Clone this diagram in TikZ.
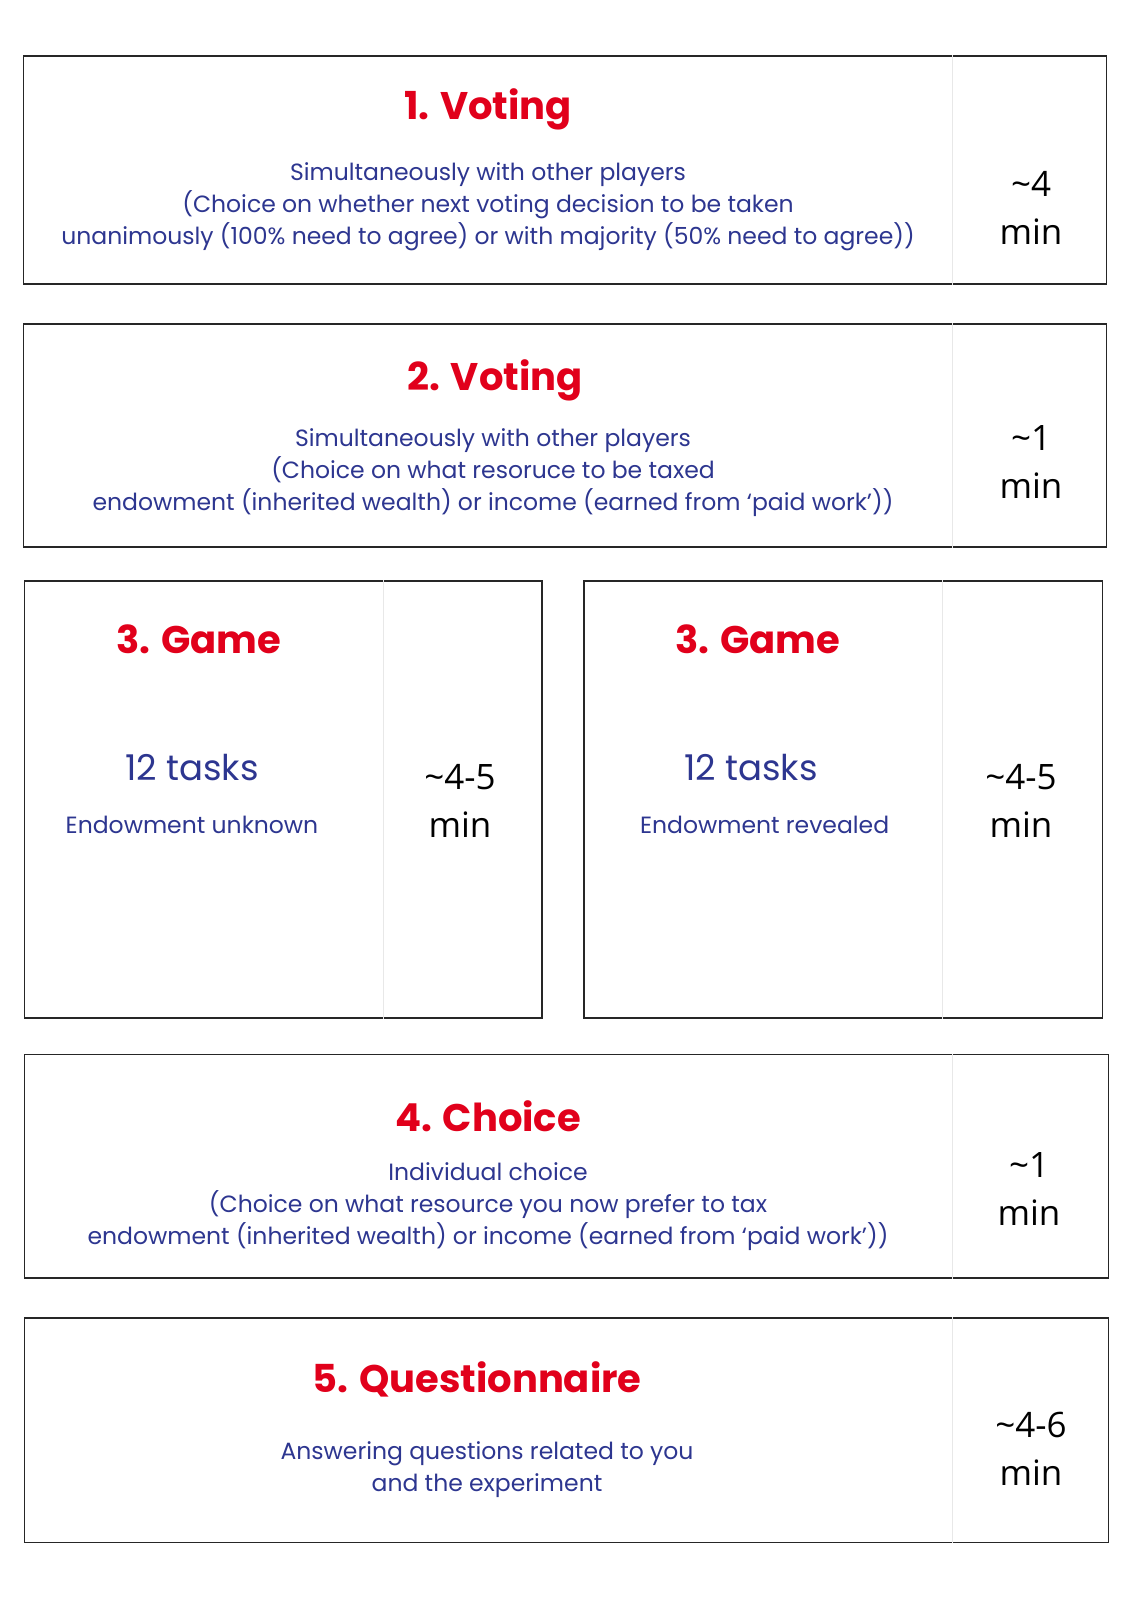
\documentclass[tikz,border=0pt]{standalone}
\usepackage{fontspec}
\setmainfont{Poppins}
\newfontfamily\durfont{Open Sans}
\usetikzlibrary{positioning,calc}
\definecolor{stagered}{HTML}{E1001B}
\definecolor{stageblue}{HTML}{2D3690}
\tikzset{
  stagebox/.style={draw=black!85,line width=1.6pt,inner sep=0pt},
  colsep/.style={draw=black!9,line width=0.8pt},
  ttl/.style={text=stagered,font=\fontsize{38.5}{44}\selectfont\bfseries,inner sep=0pt},
  body/.style={text=stageblue,font=\fontsize{23.5}{32}\selectfont,align=center,inner sep=0pt},
  tasks/.style={text=stageblue,font=\fontsize{35.5}{40}\selectfont,inner sep=0pt},
  dur/.style={font=\durfont\fontsize{35}{48}\selectfont,align=center,inner sep=0pt},
}
\begin{document}
\begin{tikzpicture}[x=1pt,y=-1pt]
  \useasboundingbox[fill=white] (0,0) rectangle (1131,1600);
  % boxes
  \node[stagebox,minimum width=1083pt,minimum height=228pt] (v1) at (565,170) {};
  \node[stagebox,minimum width=1083pt,minimum height=223pt] (v2) at (565,435.3) {};
  \node[stagebox,minimum width=517.5pt,minimum height=437pt] (g1) at (283.3,799.5) {};
  \node[stagebox,minimum width=518.5pt,minimum height=437pt] (g2) at (843.3,799.5) {};
  \node[stagebox,minimum width=1084pt,minimum height=223.5pt] (ch) at (566.5,1166.3) {};
  \node[stagebox,minimum width=1084pt,minimum height=224.5pt] (qu) at (566.5,1430.3) {};
  % time columns
  \draw[colsep] ($(v1.north west)+(929.5,0)$) -- ($(v1.south west)+(929.5,0)$);
  \draw[colsep] ($(v2.north west)+(929.5,0)$) -- ($(v2.south west)+(929.5,0)$);
  \draw[colsep] ($(g1.north west)+(359.3,0)$) -- ($(g1.south west)+(359.3,0)$);
  \draw[colsep] ($(g2.north west)+(359.2,0)$) -- ($(g2.south west)+(359.2,0)$);
  \draw[colsep] ($(ch.north west)+(928.5,0)$) -- ($(ch.south west)+(928.5,0)$);
  \draw[colsep] ($(qu.north west)+(928.5,0)$) -- ($(qu.south west)+(928.5,0)$);
  % 1. voting
  \node[ttl] (v1t) at (488,109) {1. Voting};
  \node[body] (v1b) at (488,207) {Simultaneously with other players\\(Choice on whether next voting decision to be taken\\unanimously (100\% need to agree) or with majority (50\% need to agree))};
  \node[dur] (v1d) at (1031,208) {\textasciitilde4\\min};
  % 2. voting
  \node[ttl] (v2t) at (495,380) {2. Voting};
  \node[body] (v2b) at (493,472.6) {Simultaneously with other players\\(Choice on what resoruce to be taxed\\endowment (inherited wealth) or income (earned from ‘paid work’))};
  \node[dur] (v2d) at (1031,462) {\textasciitilde1\\min};
  % 3. game
  \node[ttl] (g1t) at (199,639) {3. Game};
  \node[tasks] (g1k) at (192,768) {12 tasks};
  \node[body] (g1b) at (192,825) {Endowment unknown};
  \node[dur] (g1d) at (460,801) {\textasciitilde4-5\\min};
  \node[ttl] (g2t) at (758,639) {3. Game};
  \node[tasks] (g2k) at (751,768) {12 tasks};
  \node[body] (g2b) at (764.6,825) {Endowment revealed};
  \node[dur] (g2d) at (1021,801) {\textasciitilde4-5\\min};
  % 4. choice
  \node[ttl] (cht) at (488,1116) {4. Choice};
  \node[body] (chb) at (488,1207) {Individual choice\\(Choice on what resource you now prefer to tax\\endowment (inherited wealth) or income (earned from ‘paid work’))};
  \node[dur] (chd) at (1029,1189) {\textasciitilde1\\min};
  % 5. questionnaire
  \node[ttl] (qut) at (477,1379) {5. Questionnaire};
  \node[body] (qub) at (487,1469.5) {Answering questions related to you\\and the experiment};
  \node[dur] (qud) at (1031,1449) {\textasciitilde4-6\\min};
\end{tikzpicture}
\end{document}
